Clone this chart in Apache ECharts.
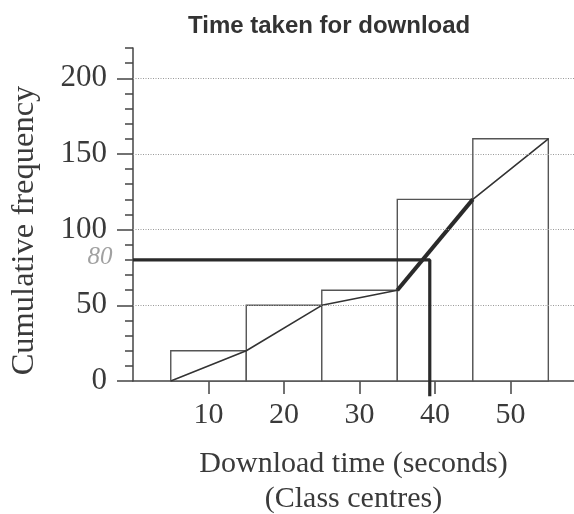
<!DOCTYPE html>
<html>
<head>
<meta charset="utf-8">
<script src="https://cdn.jsdelivr.net/npm/echarts@6/dist/echarts.min.js"></script>
<style>
  html, body { margin: 0; padding: 0; background: #fff; }
  #chart { width: 574px; height: 514px; }
</style>
</head>
<body>
<div id="chart"></div>
<script>
// ---- data ----
const classLower = [5, 15, 25, 35, 45];
const classUpper = [15, 25, 35, 45, 55];
const cumFreq = [20, 50, 60, 120, 160];
const ogiveX = [5, 15, 25, 35, 45, 55];
const ogiveY = [0, 20, 50, 60, 120, 160];
const overlayX = [35, 45];
const overlayY = [60, 120];
const readX = [0, 39.3, 39.3];
const readY = [80, 80, -10];
const readLabelPoint = [0, 80];
const readLabel = '80';
const xTickValues = [10, 20, 30, 40, 50];
const yMajorValues = [0, 50, 100, 150, 200];
const gridValues = [50, 100, 150, 200];

const serif = '"Liberation Serif", "DejaVu Serif", serif';
const ink = '#3a3a3a';

const chart = echarts.init(document.getElementById('chart'));

const barData = classLower.map((lo, i) => [lo, classUpper[i], cumFreq[i]]);
const ogiveData = ogiveX.map((x, i) => [x, ogiveY[i]]);
const overlayData = overlayX.map((x, i) => [x, overlayY[i]]);
const readData = readX.map((x, i) => [x, readY[i]]);

chart.setOption({
  animation: false,
  backgroundColor: '#fff',
  title: {
    text: 'Time taken for download',
    left: 183,
    top: 9,
    textStyle: { fontFamily: '"Liberation Sans", Arial, sans-serif', fontWeight: 'bold', fontSize: 24, color: '#333' }
  },
  grid: { left: 133, right: 0, top: 48, bottom: 133, containLabel: false, outerBoundsMode: 'none' },
  xAxis: {
    type: 'value',
    min: 0,
    max: 58.4,
    interval: 10,
    name: 'Download time (seconds)\n(Class centres)',
    nameLocation: 'middle',
    nameGap: 66,
    nameTextStyle: { fontFamily: serif, fontSize: 30, lineHeight: 35, color: ink },
    axisLine: { show: true, lineStyle: { color: '#444', width: 1.5 } },
    axisTick: { show: true, customValues: xTickValues, length: 13, lineStyle: { color: '#444', width: 1.5 } },
    axisLabel: { customValues: xTickValues, margin: 19, fontFamily: serif, fontSize: 30, color: ink },
    splitLine: { show: false }
  },
  yAxis: [
    {
      type: 'value',
      position: 'left',
      min: 0,
      max: 220,
      interval: 10,
      axisLine: { show: true, lineStyle: { color: '#444', width: 1.5 } },
      axisTick: { show: true, length: 8, lineStyle: { color: '#444', width: 1.5 } },
      axisLabel: { show: false },
      splitLine: { show: false }
    },
    {
      type: 'value',
      position: 'left',
      min: 0,
      max: 220,
      interval: 10,
      name: 'Cumulative frequency',
      nameLocation: 'middle',
      nameRotate: 90,
      nameGap: 92,
      nameTextStyle: { fontFamily: serif, fontSize: 32.5, color: ink, padding: [0, 32, 0, 0] },
      axisLine: { show: false },
      axisTick: { show: true, customValues: yMajorValues, length: 16, lineStyle: { color: '#444', width: 1.5 } },
      axisLabel: { customValues: yMajorValues, margin: 26, fontFamily: serif, fontSize: 31, color: ink },
      splitLine: { show: false }
    }
  ],
  series: [
    {
      type: 'line',
      data: [],
      z: 1,
      silent: true,
      markLine: {
        silent: true,
        symbol: ['none', 'none'],
        label: { show: false },
        lineStyle: { color: '#999', type: [1, 1.5], width: 1.2 },
        data: gridValues.map(v => ({ yAxis: v }))
      }
    },
    {
      type: 'custom',
      z: 2,
      data: barData,
      encode: { x: [0, 1], y: 2 },
      renderItem: function (params, api) {
        const p0 = api.coord([api.value(0), api.value(2)]);
        const p1 = api.coord([api.value(1), 0]);
        return {
          type: 'rect',
          shape: { x: p0[0], y: p0[1], width: p1[0] - p0[0], height: p1[1] - p0[1] },
          style: { fill: '#fff', stroke: '#555', lineWidth: 1.4 }
        };
      }
    },
    {
      type: 'line',
      z: 3,
      data: ogiveData,
      symbol: 'none',
      lineStyle: { color: '#333', width: 1.6 }
    },
    {
      type: 'line',
      z: 4,
      data: overlayData,
      symbol: 'none',
      lineStyle: { color: '#2a2a2a', width: 4 }
    },
    {
      type: 'line',
      z: 5,
      clip: false,
      data: readData,
      symbol: 'none',
      lineStyle: { color: '#2a2a2a', width: 3.2 }
    },
    {
      type: 'scatter',
      z: 6,
      clip: false,
      silent: true,
      symbolSize: 1,
      itemStyle: { color: 'rgba(0,0,0,0)' },
      data: [readLabelPoint],
      label: {
        show: true,
        position: 'left',
        distance: 20,
        offset: [0, -2],
        formatter: readLabel,
        fontFamily: serif,
        fontStyle: 'italic',
        fontSize: 25,
        color: '#8a8a8a'
      }
    }
  ]
});
</script>
</body>
</html>
